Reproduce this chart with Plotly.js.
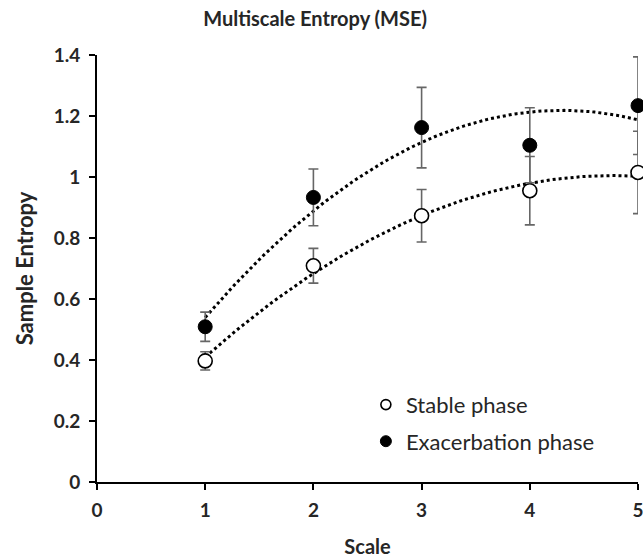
<!DOCTYPE html>
<html><head><meta charset="utf-8">
<script src="https://cdn.plot.ly/plotly-3.0.1.min.js"></script>
<style>html,body{margin:0;padding:0;background:#fff}#chart{width:643px;height:558px}</style>
</head><body><div id="chart"></div>
<script>
const scales = [1, 2, 3, 4, 5];
const stableMean = [0.397, 0.709, 0.873, 0.955, 1.015];
const stableErr = [0.030, 0.057, 0.086, 0.112, 0.135];
const exacMean = [0.509, 0.933, 1.162, 1.104, 1.234];
const exacErr = [0.048, 0.093, 0.132, 0.123, 0.160];
const seriesNames = ['Stable phase', 'Exacerbation phase'];
const xTicks = [0, 1, 2, 3, 4, 5];
const yTicks = [0, 0.2, 0.4, 0.6, 0.8, 1, 1.2, 1.4];

// second-order polynomial trend (least squares), like a spreadsheet trendline
function polyFit2(xs, ys) {
  let S = [0,0,0,0,0], T = [0,0,0];
  for (let i = 0; i < xs.length; i++) {
    let p = 1;
    for (let k = 0; k < 5; k++) { S[k] += p; if (k < 3) T[k] += p * ys[i]; p *= xs[i]; }
  }
  const A = [[S[0],S[1],S[2],T[0]],[S[1],S[2],S[3],T[1]],[S[2],S[3],S[4],T[2]]];
  for (let c = 0; c < 3; c++) {
    for (let r = c + 1; r < 3; r++) {
      const f = A[r][c] / A[c][c];
      for (let k = c; k < 4; k++) A[r][k] -= f * A[c][k];
    }
  }
  const co = [0,0,0];
  for (let r = 2; r >= 0; r--) {
    let s = A[r][3];
    for (let k = r + 1; k < 3; k++) s -= A[r][k] * co[k];
    co[r] = s / A[r][r];
  }
  return co;
}
function trend(xs, ys) {
  const c = polyFit2(xs, ys);
  const lo = Math.min(...xs), hi = Math.max(...xs);
  const tx = [], ty = [];
  for (let i = 0; i <= 100; i++) {
    const x = lo + (hi - lo) * i / 100;
    tx.push(x); ty.push(c[0] + c[1] * x + c[2] * x * x);
  }
  return {x: tx, y: ty};
}
const tS = trend(scales, stableMean);
const tE = trend(scales, exacMean);

const errStyle = {type: 'data', visible: true, color: '#666666', thickness: 1.6, width: 5};
const traces = [
  {x: tS.x, y: tS.y, mode: 'lines', line: {color: '#000', width: 3, dash: 'dot'}, showlegend: false, hoverinfo: 'skip'},
  {x: tE.x, y: tE.y, mode: 'lines', line: {color: '#000', width: 3, dash: 'dot'}, showlegend: false, hoverinfo: 'skip'},
  {x: scales, y: stableMean, name: seriesNames[0], mode: 'markers', showlegend: false,
   error_y: Object.assign({array: stableErr}, errStyle),
   marker: {symbol: 'circle', size: 14, color: '#fff', line: {color: '#000', width: 1.6}}, cliponaxis: false},
  {x: scales, y: exacMean, name: seriesNames[1], mode: 'markers', showlegend: false,
   error_y: Object.assign({array: exacErr}, errStyle),
   marker: {symbol: 'circle', size: 14, color: '#000', line: {color: '#000', width: 1}}, cliponaxis: false},
  // legend keys (no data points of their own)
  {x: [null], y: [null], name: seriesNames[0], mode: 'markers', legendgroup: 'a',
   marker: {symbol: 'circle', size: 10, color: '#fff', line: {color: '#000', width: 1.6}}},
  {x: [null], y: [null], name: seriesNames[1], mode: 'markers', legendgroup: 'b',
   marker: {symbol: 'circle', size: 11, color: '#000', line: {color: '#000', width: 1}}}
];

const layout = {
  width: 643, height: 558,
  margin: {l: 97, r: 5, t: 55, b: 76},
  paper_bgcolor: '#fff', plot_bgcolor: '#fff',
  font: {family: 'Lato, "Open Sans", sans-serif', color: '#262626'},
  title: {text: '<b>Multiscale Entropy (MSE)</b>', x: 0.49, xanchor: 'center', y: 0.966, yanchor: 'middle',
          font: {size: 20, color: '#262626', family: 'Lato, sans-serif'}},
  xaxis: {range: [0, 5], tickvals: xTicks, ticktext: xTicks.map(v => '<b>' + v + '</b>'),
          showgrid: false, zeroline: false, showline: true, linecolor: '#000', linewidth: 2,
          ticks: 'outside', ticklen: 6, tickwidth: 2, tickcolor: '#000', ticklabelstandoff: 4,
          ticklabeloverflow: 'allow',
          tickfont: {size: 19, color: '#262626'},
          title: {text: '<b>Scale</b>', font: {size: 20, color: '#262626'}, standoff: 20}},
  yaxis: {range: [0, 1.4], tickvals: yTicks, ticktext: yTicks.map(v => '<b>' + v + '</b>'),
          showgrid: false, zeroline: false, showline: true, linecolor: '#000', linewidth: 2,
          ticks: 'outside', ticklen: 6, tickwidth: 2, tickcolor: '#000', ticklabelstandoff: 5,
          tickfont: {size: 19, color: '#262626'},
          title: {text: '<b>Sample Entropy</b>', font: {size: 22, color: '#262626'}, standoff: 14}},
  showlegend: true,
  legend: {x: 0.497, y: 0.23, xanchor: 'left', yanchor: 'top', bgcolor: 'rgba(0,0,0,0)',
           font: {size: 22, color: '#262626'}, itemwidth: 30, tracegroupgap: 5}
};
Plotly.newPlot('chart', traces, layout, {displayModeBar: false, staticPlot: true});
</script></body></html>
